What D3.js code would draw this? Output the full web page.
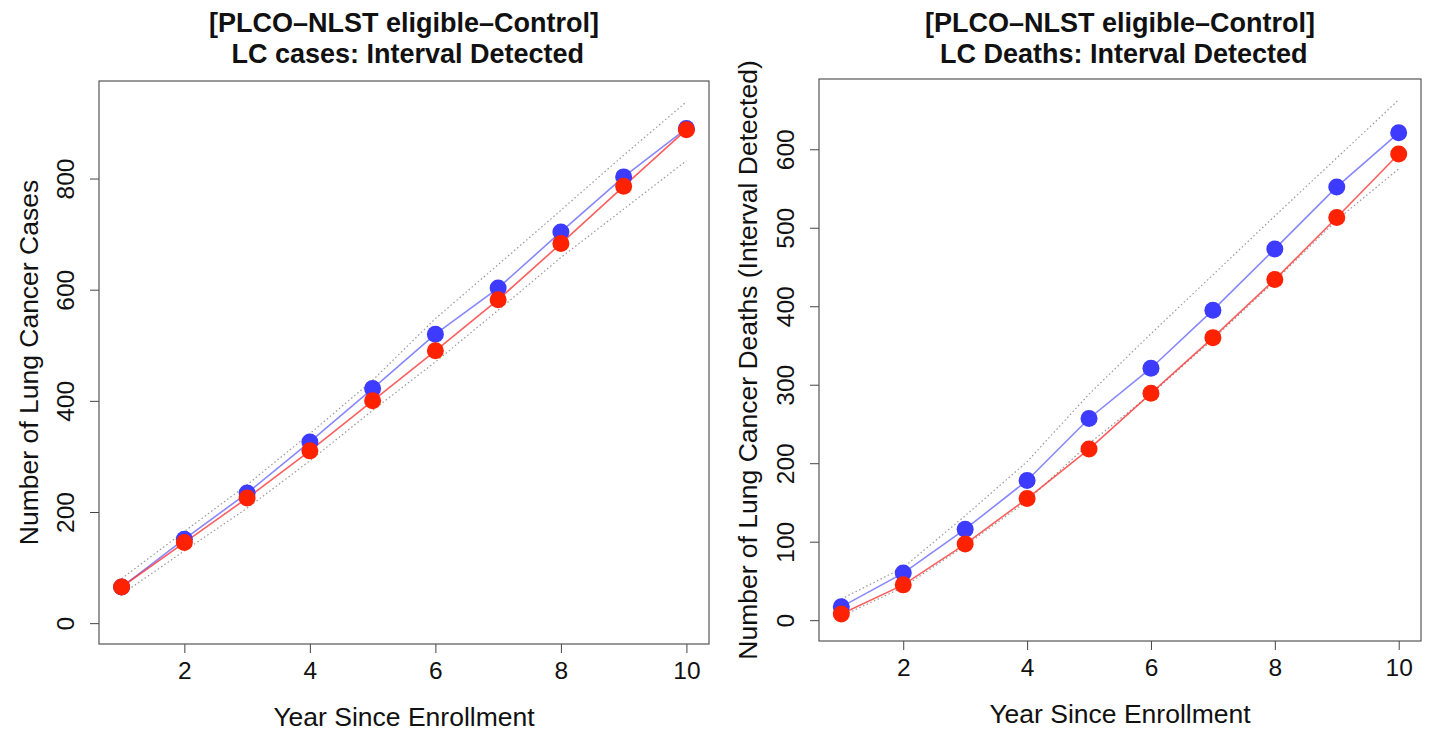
<!DOCTYPE html>
<html>
<head>
<meta charset="utf-8">
<script src="https://cdn.jsdelivr.net/npm/d3@7"></script>
<style>
  body { margin: 0; background: #fff; }
  text { font-family: "Liberation Sans", Arial, Helvetica, sans-serif; fill: #111; }
  .tick text { font-size: 24.5px; }
  .axis-label { font-size: 26.5px; }
  .main-title { font-size: 27px; font-weight: bold; }
</style>
</head>
<body>
<div id="chart"></div>
<script>
// Data
const years = [1, 2, 3, 4, 5, 6, 7, 8, 9, 10];

const casesBlue  = [65, 151, 234, 326, 422, 520, 603, 704, 803, 890];
const casesRed   = [65, 145, 225, 310, 400, 490, 582, 683, 786, 888];
const casesUpper = [80, 165, 249, 341, 437, 548, 645, 743, 842, 938];
const casesLower = [52, 130, 207, 292, 383, 470, 563, 658, 745, 832];

const deathsBlue  = [17, 60, 116, 178, 257, 321, 395, 473, 552, 621];
const deathsRed   = [8, 45, 97, 155, 218, 289, 360, 434, 513, 594];
const deathsUpper = [27, 67, 133, 202, 288, 365, 440, 515, 589, 663];
const deathsLower = [5, 42, 95, 152, 225, 288, 358, 432, 510, 575];

const casesTicks = [0, 200, 400, 600, 800];
const deathsTicks = [0, 100, 200, 300, 400, 500, 600];
const yearTicks = [2, 4, 6, 8, 10];

const svg = d3.select("#chart")
    .append("svg")
    .attr("width", 1434)
    .attr("height", 733);

// R style 4% padding of a range
function padded(lo, hi) {
    const p = (hi - lo) * 0.04;
    return [lo - p, hi + p];
}

function drawPanel(opts) {
    const width = opts.right - opts.left;
    const height = opts.bottom - opts.top;

    const g = svg.append("g")
        .attr("transform", `translate(${opts.left},${opts.top})`);

    const x = d3.scaleLinear()
        .domain(padded(d3.min(years), d3.max(years)))
        .range([0, width]);

    const y = d3.scaleLinear()
        .domain(padded(0, d3.max(opts.upper)))
        .range([height, 0]);

    const line = d3.line()
        .x((d, i) => x(years[i]))
        .y(d => y(d));

    // confidence band (dotted)
    [opts.upper, opts.lower].forEach(band => {
        g.append("path")
            .datum(band)
            .attr("d", line)
            .attr("fill", "none")
            .attr("stroke", "#9a9a9a")
            .attr("stroke-width", 1.2)
            .attr("stroke-dasharray", "1.5,2.5");
    });

    const series = [
        {values: opts.blue, line: "rgba(70,70,255,0.65)", dot: "#3d3bff"},
        {values: opts.red, line: "rgba(255,40,40,0.75)", dot: "#ff2200"}
    ];

    series.forEach(s => {
        g.append("path")
            .datum(s.values)
            .attr("d", line)
            .attr("fill", "none")
            .attr("stroke", s.line)
            .attr("stroke-width", 1.6);
    });

    series.forEach(s => {
        g.selectAll(null)
            .data(s.values)
            .join("circle")
            .attr("cx", (d, i) => x(years[i]))
            .attr("cy", d => y(d))
            .attr("r", 8.5)
            .attr("fill", s.dot);
    });

    // axes
    const xAxis = g.append("g")
        .attr("transform", `translate(0,${height})`)
        .call(d3.axisBottom(x).tickValues(yearTicks).tickSize(9).tickPadding(10));
    xAxis.select(".domain").remove();
    xAxis.selectAll(".tick line").attr("stroke", "#444");
    xAxis.selectAll(".tick text").attr("dy", "0.71em").attr("y", 18);

    const yAxis = g.append("g")
        .call(d3.axisLeft(y).tickValues(opts.ticks).tickSize(9));
    yAxis.select(".domain").remove();
    yAxis.selectAll(".tick line").attr("stroke", "#444");
    yAxis.selectAll(".tick text")
        .attr("transform", "rotate(-90)")
        .attr("x", 0)
        .attr("y", -25)
        .attr("dy", 0)
        .attr("text-anchor", "middle");

    // box
    g.append("rect")
        .attr("width", width)
        .attr("height", height)
        .attr("fill", "none")
        .attr("stroke", "#555")
        .attr("stroke-width", 1.2);

    // labels
    g.append("text")
        .attr("class", "axis-label")
        .attr("x", width / 2)
        .attr("y", height + 82)
        .attr("text-anchor", "middle")
        .text("Year Since Enrollment");

    g.append("text")
        .attr("class", "axis-label")
        .attr("transform", "rotate(-90)")
        .attr("x", -height / 2)
        .attr("y", -opts.ylabGap)
        .attr("text-anchor", "middle")
        .text(opts.ylab);

    opts.title.forEach((t, i) => {
        g.append("text")
            .attr("class", "main-title")
            .attr("x", width / 2)
            .attr("y", -opts.top + 32 + i * 31)
            .attr("text-anchor", "middle")
            .style("white-space", "pre")
            .text(t);
    });
}

drawPanel({
    left: 99, right: 709, top: 81, bottom: 644,
    blue: casesBlue, red: casesRed, upper: casesUpper, lower: casesLower,
    ticks: casesTicks,
    ylab: "Number of Lung Cancer Cases", ylabGap: 61,
    title: ["[PLCO\u2013NLST eligible\u2013Control]", " LC cases: Interval Detected"]
});

drawPanel({
    left: 819, right: 1421, top: 79, bottom: 641,
    blue: deathsBlue, red: deathsRed, upper: deathsUpper, lower: deathsLower,
    ticks: deathsTicks,
    ylab: "Number of Lung Cancer Deaths (Interval Detected)", ylabGap: 62,
    title: ["[PLCO\u2013NLST eligible\u2013Control]", " LC Deaths: Interval Detected"]
});
</script>
</body>
</html>
